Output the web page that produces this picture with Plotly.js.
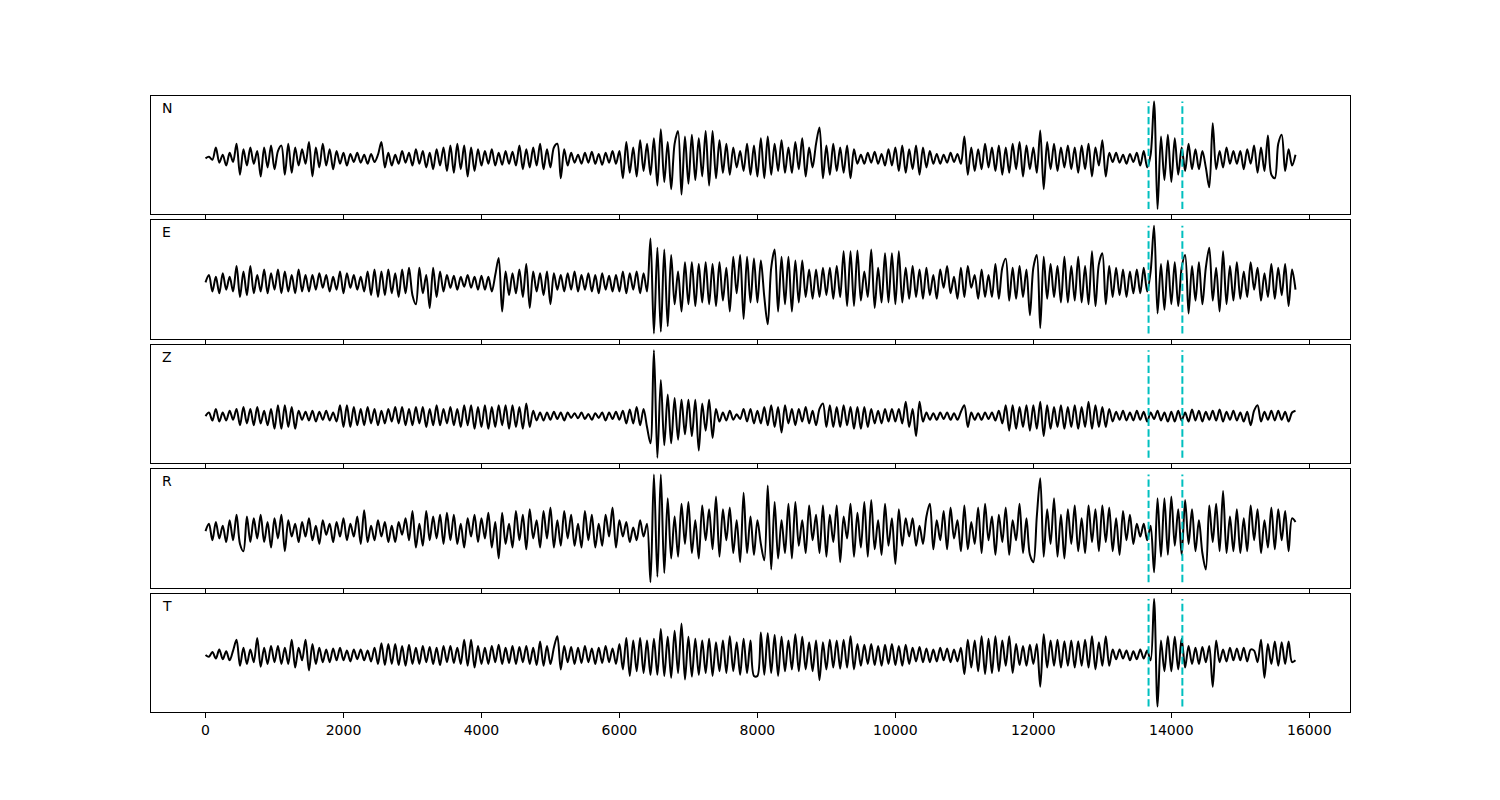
<!DOCTYPE html>
<html><head><meta charset="utf-8">
<script src="https://cdn.plot.ly/plotly-3.0.1.min.js"></script>
<style>html,body{margin:0;padding:0;background:#fff}</style>
</head><body><div id="chart" style="width:1500px;height:800px"></div>
<script>
const dt = 50;
const labels = ["N", "E", "Z", "R", "T"];
const picks = [13670, 14160];
const tickVals = [0, 2000, 4000, 6000, 8000, 10000, 12000, 14000, 16000];
const tickText = ["0", "2000", "4000", "6000", "8000", "10000", "12000", "14000", "16000"];

const traceN = [
0,4,-4,30,-12,10,-20,15,-10,40,
-45,25,-20,30,-15,20,-50,30,-25,35,
-30,20,35,-45,40,-40,30,-20,25,-15,
45,-50,30,-25,40,-20,25,-30,20,-15,
15,-20,12,-10,15,-12,10,-15,12,-10,
10,45,-25,15,-20,10,-15,20,-12,15,
-20,25,-15,20,-25,15,-30,25,-20,30,
-35,35,-40,40,-30,35,-50,30,-35,25,
-20,20,-15,25,-20,15,-18,20,-15,18,
-20,35,-30,25,-25,30,-20,40,-30,25,
-25,30,40,-55,25,-20,15,-12,10,-15,
15,-12,18,-15,12,-18,15,-12,20,-15,
20,-55,45,-40,30,-50,50,-35,40,-45,
55,-75,80,-65,45,-85,40,75,-100,60,
-70,65,-60,55,-50,75,-75,75,-55,50,
-40,40,-45,30,-25,20,-35,40,-45,35,
-50,55,-55,60,-45,40,-35,50,-40,30,
-40,45,-30,55,-50,30,-25,40,85,-55,
35,-45,40,-35,30,-40,35,-55,25,-15,
10,-15,15,-12,18,-15,12,-20,25,-20,
30,-35,35,-40,25,-30,35,-45,30,-25,
20,-15,12,-15,10,-12,15,-10,12,-15,
60,-45,30,-35,25,-30,40,-25,30,-35,
35,-45,30,-40,40,-30,45,-50,35,-30,
30,-40,77,-85,45,-30,40,-35,30,-25,
35,-30,30,-40,35,-30,40,-50,30,-20,
50,-50,15,-10,15,-12,10,-15,12,-10,
15,-20,20,-25,10,157,-140,60,-60,65,
-65,55,-45,30,-35,40,-30,25,-30,20,
-25,-80,97,-30,20,-25,30,-15,20,-15,
20,-30,25,-15,35,-40,30,-35,63,-45,
-55,40,65,-35,25,-20,10];

const traceE = [
0,20,-25,15,-30,25,-20,15,-25,45,
-40,30,-35,45,-30,20,-25,35,-30,25,
-20,35,-30,30,-25,20,-30,35,-25,20,
-25,20,-20,25,-15,20,-25,15,-20,30,
-30,25,-15,20,-20,15,-25,30,-35,35,
-40,30,-35,35,-30,25,-40,35,-30,40,
-35,-60,40,-30,20,-70,40,-40,30,-25,
20,-15,18,-20,15,-12,20,-15,15,-20,
18,-20,15,-25,20,67,-80,30,-35,25,
-30,35,-40,50,-70,30,-25,25,-35,30,
-60,25,-20,20,-25,25,-20,30,-25,20,
-20,25,-25,20,-30,25,-20,18,-25,20,
-25,30,-30,25,-20,30,-30,25,-25,120,
-140,95,-135,90,-120,75,-60,30,-80,55,
-60,55,-65,50,-55,55,-60,50,-65,55,
-50,40,-80,70,-30,75,-100,70,-55,65,
-55,60,-40,-115,40,90,-80,70,-60,70,
-80,60,-55,60,-40,35,-45,35,-40,40,
-35,40,-45,45,-40,85,-65,85,-65,87,
-50,30,-40,90,-70,40,-55,80,-55,80,
-60,85,-55,40,-45,45,-40,35,-45,40,
-35,20,-45,35,-15,45,-30,15,-45,40,
-40,45,-15,20,-45,35,-40,20,-40,50,
-45,40,65,-50,40,-45,45,-40,35,-90,
40,75,-125,70,-45,50,-40,45,-55,70,
-55,45,-50,70,-55,45,-60,85,-65,50,
80,-60,45,-40,40,-35,35,-40,30,-30,
35,-30,40,-25,30,155,-85,50,-75,60,
-60,55,-65,40,75,-85,45,-50,55,-60,
40,95,-50,40,-80,85,-60,45,-50,55,
-45,30,-40,55,-20,40,-50,25,-40,50,
-45,40,-35,50,-65,35,-20];

const traceZ = [
0,10,-12,20,-15,10,-12,15,-10,20,
-25,25,-20,20,-25,25,-20,15,-25,20,
-35,30,-35,30,-30,25,-35,15,-10,12,
-12,15,-15,12,-10,15,-12,10,-15,30,
-30,30,-30,25,-25,20,-25,25,-20,20,
-25,15,-20,20,-15,25,-20,25,-25,20,
-25,25,-20,25,-30,20,-25,30,-25,20,
-20,25,-25,20,-30,30,-25,30,-35,25,
-30,30,-35,25,-30,30,-25,30,-35,30,
-30,25,-35,35,-30,15,-12,10,-12,10,
-10,12,-8,10,-12,10,-5,8,-6,10,
-8,6,-10,8,-5,10,-12,10,-8,12,
-10,15,-20,18,-20,25,-25,20,-30,-75,
182,-115,100,-80,60,-75,50,-65,45,-50,
45,-55,45,-95,35,-40,45,-60,20,-15,
10,-12,15,-10,5,-8,20,-15,20,-20,
15,-20,25,-25,30,-30,25,-45,30,-20,
20,-25,20,-15,25,-20,15,-25,20,35,
-30,30,-30,25,-30,30,-25,25,-35,25,
-35,25,-30,20,-20,15,-20,20,-15,20,
-15,20,-20,40,-30,20,-55,40,-15,10,
-10,8,-10,10,-8,10,-10,8,-10,12,
30,-30,10,-10,8,-10,10,-8,10,-12,
15,-20,30,-40,30,-35,25,-30,30,-40,
30,-35,40,-55,30,-35,25,-30,30,-35,
25,-30,30,-35,25,-30,40,-35,30,-30,
25,-30,20,-15,12,-10,15,-12,10,-12,
15,-10,12,-15,10,-8,15,-12,10,-15,
12,-15,15,-12,10,-15,18,-12,15,-15,
12,-10,15,-12,18,-15,12,-10,15,-12,
10,-15,12,-25,15,30,-15,12,-10,15,
-12,15,-10,12,-15,10,15];

const traceR = [
0,20,-25,25,-20,15,-30,30,-25,45,
-35,-55,40,-30,35,-20,45,-30,25,-45,
35,-20,45,-55,30,-15,20,-30,25,-15,
35,-25,15,-35,30,-10,20,-30,25,-15,
35,-25,20,-15,40,-35,57,-30,15,-25,
30,-15,25,-30,15,-30,25,-10,35,-25,
55,-45,20,-40,55,-25,40,-20,45,-35,
50,-25,45,-35,20,-45,35,-15,45,-30,
35,-20,50,-45,25,-75,50,-35,20,-45,
55,-25,45,-50,60,-20,30,-45,55,-20,
65,-45,30,-40,55,-20,45,-40,20,-45,
55,-25,45,-45,20,-40,45,-15,65,-45,
30,-15,25,-30,10,-25,30,-15,20,-140,
155,-125,155,-115,90,-75,40,-70,75,-35,
80,-60,30,-75,70,-25,60,-50,95,-70,
60,-25,65,-60,30,-85,105,-60,40,-65,
30,-35,-80,125,-105,80,-75,30,-60,75,
-75,80,-40,30,-60,70,-25,45,-60,70,
-70,45,-30,70,-85,40,-20,75,-70,50,
-45,80,-70,85,-50,30,-65,75,-40,35,
-90,60,-40,35,-15,35,-40,15,-35,40,
75,-50,30,-25,55,-50,65,-20,30,-55,
70,-50,25,-35,65,-60,75,-25,40,-65,
45,-30,65,-65,30,-25,75,-60,35,-65,
-85,40,145,-70,60,-35,90,-70,45,-75,
60,-35,70,-55,35,-60,70,-30,60,-55,
70,-30,65,-55,35,-65,55,-25,45,-35,
20,-15,20,-25,15,-113,90,-70,90,-65,
95,-40,60,-65,85,-35,60,-55,30,-60,
-105,70,-30,75,-55,110,-60,40,-55,60,
-60,35,-55,70,-25,60,-60,30,-45,65,
-50,60,-25,55,-55,35,25];

const traceT = [
0,-5,8,-10,15,-12,10,-15,12,42,
-30,20,-25,15,-20,47,-33,20,-25,25,
-20,25,-25,20,-25,42,-35,20,-15,42,
-43,30,-25,20,-20,15,-20,18,-15,20,
-15,12,-18,15,-12,15,-15,12,-18,20,
-25,32,-28,30,-25,30,-28,25,-30,28,
-25,20,-25,25,-20,22,-25,20,-28,25,
-20,25,-22,20,-25,42,-30,42,-35,25,
-25,20,-25,25,-20,28,-25,20,-22,25,
-25,22,-20,25,-25,20,-28,37,-30,25,
-25,20,52,-40,25,-20,22,-25,20,-22,
25,-20,18,-25,20,-22,25,-20,18,-25,
30,-40,47,-58,40,-45,47,-50,40,-55,
45,-55,72,-58,50,-63,67,-50,87,-68,
50,-60,45,-55,40,-50,45,-58,35,-45,
40,-50,52,-45,35,-55,45,-50,40,-58,
-58,62,-55,60,-50,55,-58,50,-45,40,
-40,57,-45,50,-40,35,-45,40,-70,35,
-40,42,-35,40,-38,42,-35,52,-40,30,
-30,28,-25,30,-28,25,-30,28,-25,30,
-28,25,-30,28,-25,20,-18,22,-20,18,
-20,15,-18,20,-15,18,-20,15,-18,20,
-53,42,-35,40,-45,52,-53,45,-50,52,
-45,40,-30,52,-50,30,-28,25,-30,28,
-25,30,-88,57,-35,40,-30,42,-35,38,
-30,40,-35,38,-30,42,-35,52,-40,35,
-30,52,-30,15,-12,15,-10,12,-15,10,
-12,15,-10,12,-15,155,-143,40,-45,52,
-45,50,-40,45,-35,25,-25,20,-25,22,
-20,25,-88,40,-20,15,-18,20,-15,18,
-15,20,-18,15,12,-20,42,-63,30,-25,
37,-30,35,-25,37,-20,-15];

const series = [traceN, traceE, traceZ, traceR, traceT];
const times = traceN.map((_, i) => i * dt);

const plotH = 616, nP = 5, hs = 0.05;
const ph = plotH / (nP + (nP - 1) * hs), gap = hs * ph;
const data = [], shapes = [], annotations = [];
const layout = {
  width: 1500, height: 800,
  margin: {l: 151, r: 150, t: 96, b: 88, pad: 0},
  paper_bgcolor: '#fff', plot_bgcolor: '#fff',
  showlegend: false,
  font: {family: 'DejaVu Sans', size: 14, color: '#000'}
};
series.forEach((vals, i) => {
  const sfx = i === 0 ? '' : String(i + 1);
  const top = 1 - i * (ph + gap) / plotH;
  const bot = top - ph / plotH;
  const lo = Math.min(...vals), hi = Math.max(...vals);
  const pad = 0.05 * (hi - lo);
  data.push({x: times, y: vals, type: 'scatter', mode: 'lines',
    line: {color: '#000', width: 2, shape: 'spline', smoothing: 0.9},
    xaxis: 'x' + sfx, yaxis: 'y' + sfx, hoverinfo: 'skip'});
  layout['yaxis' + sfx] = {domain: [bot, top], range: [lo - pad, hi + pad], anchor: 'x' + sfx,
    showticklabels: false, ticks: '', showgrid: false, zeroline: false,
    showline: true, mirror: true, linecolor: '#000', linewidth: 1};
  layout['xaxis' + sfx] = {range: [-790, 16590], anchor: 'y' + sfx,
    tickmode: 'array', tickvals: tickVals, ticktext: tickText,
    ticks: 'outside', ticklen: 5, tickwidth: 1, tickcolor: '#000',
    showticklabels: i === nP - 1, showgrid: false, zeroline: false,
    showline: true, mirror: true, linecolor: '#000', linewidth: 1,
    tickfont: {family: 'DejaVu Sans', size: 14, color: '#000'}};
  picks.forEach(p => shapes.push({type: 'line', xref: 'x' + sfx, yref: 'y' + sfx + ' domain',
    x0: p, x1: p, y0: 0.5 / 11, y1: 10.5 / 11,
    line: {color: '#00bfbf', width: 2, dash: '7.4px,3.2px'}}));
  annotations.push({text: labels[i], xref: 'paper', yref: 'paper',
    x: 9 / 1199, y: top - 12 / plotH, xanchor: 'left', yanchor: 'middle',
    showarrow: false, font: {family: 'DejaVu Sans', size: 14, color: '#000'}});
});
layout.shapes = shapes;
layout.annotations = annotations;
Plotly.newPlot('chart', data, layout, {staticPlot: true, displayModeBar: false});
</script></body></html>
